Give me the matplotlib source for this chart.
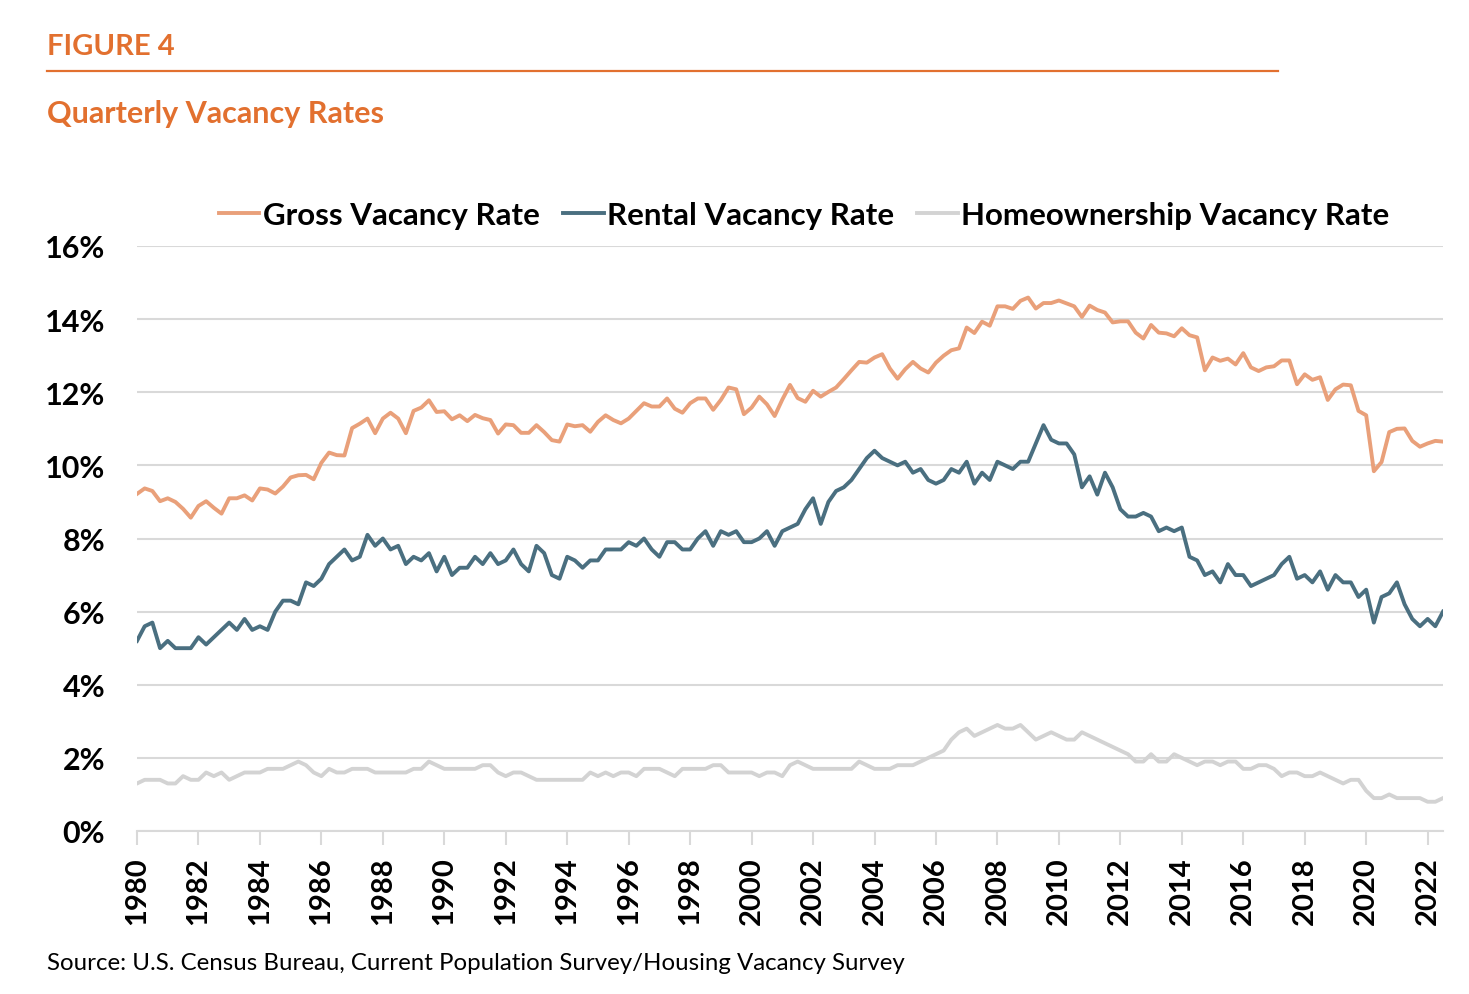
import matplotlib
matplotlib.use("Agg")
import matplotlib.pyplot as plt
from matplotlib.lines import Line2D

# quarterly series, 1980 Q1 .. 2022 Q3
years = list(range(1980, 2023))
quarters = [f"{y} Q{q}" for y in years for q in range(1, 5)][:171]

gross = [9.22, 9.37, 9.30, 9.02, 9.10, 9.00, 8.81, 8.57, 8.89, 9.02,
         8.84, 8.68, 9.10, 9.10, 9.18, 9.04, 9.37, 9.34, 9.23, 9.42,
         9.67, 9.73, 9.74, 9.62, 10.07, 10.35, 10.28, 10.27, 11.02, 11.14,
         11.28, 10.88, 11.28, 11.44, 11.28, 10.88, 11.49, 11.58, 11.78, 11.46,
         11.48, 11.26, 11.37, 11.21, 11.38, 11.29, 11.24, 10.87, 11.12, 11.10,
         10.89, 10.89, 11.10, 10.91, 10.69, 10.65, 11.12, 11.07, 11.10, 10.92,
         11.19, 11.37, 11.24, 11.15, 11.28, 11.49, 11.70, 11.61, 11.61, 11.83,
         11.55, 11.44, 11.70, 11.83, 11.83, 11.52, 11.79, 12.13, 12.08, 11.40,
         11.58, 11.88, 11.67, 11.35, 11.80, 12.20, 11.84, 11.74, 12.04, 11.88,
         12.01, 12.13, 12.36, 12.60, 12.83, 12.81, 12.95, 13.04, 12.65, 12.37,
         12.63, 12.83, 12.65, 12.54, 12.81, 13.00, 13.15, 13.20, 13.77, 13.62,
         13.93, 13.82, 14.35, 14.35, 14.28, 14.50, 14.59, 14.29, 14.44, 14.44,
         14.51, 14.43, 14.35, 14.06, 14.37, 14.25, 14.18, 13.91, 13.94, 13.94,
         13.63, 13.47, 13.84, 13.63, 13.61, 13.53, 13.75, 13.56, 13.50, 12.60,
         12.95, 12.86, 12.92, 12.76, 13.07, 12.68, 12.58, 12.68, 12.71, 12.87,
         12.87, 12.22, 12.49, 12.34, 12.41, 11.79, 12.08, 12.21, 12.19, 11.49,
         11.37, 9.84, 10.09, 10.91, 11.00, 11.01, 10.67, 10.51, 10.60, 10.67, 10.65]

rental = [5.2, 5.6, 5.7, 5.0, 5.2, 5.0, 5.0, 5.0, 5.3, 5.1,
          5.3, 5.5, 5.7, 5.5, 5.8, 5.5, 5.6, 5.5, 6.0, 6.3,
          6.3, 6.2, 6.8, 6.7, 6.9, 7.3, 7.5, 7.7, 7.4, 7.5,
          8.1, 7.8, 8.0, 7.7, 7.8, 7.3, 7.5, 7.4, 7.6, 7.1,
          7.5, 7.0, 7.2, 7.2, 7.5, 7.3, 7.6, 7.3, 7.4, 7.7,
          7.3, 7.1, 7.8, 7.6, 7.0, 6.9, 7.5, 7.4, 7.2, 7.4,
          7.4, 7.7, 7.7, 7.7, 7.9, 7.8, 8.0, 7.7, 7.5, 7.9,
          7.9, 7.7, 7.7, 8.0, 8.2, 7.8, 8.2, 8.1, 8.2, 7.9,
          7.9, 8.0, 8.2, 7.8, 8.2, 8.3, 8.4, 8.8, 9.1, 8.4,
          9.0, 9.3, 9.4, 9.6, 9.9, 10.2, 10.4, 10.2, 10.1, 10.0,
          10.1, 9.8, 9.9, 9.6, 9.5, 9.6, 9.9, 9.8, 10.1, 9.5,
          9.8, 9.6, 10.1, 10.0, 9.9, 10.1, 10.1, 10.6, 11.1, 10.7,
          10.6, 10.6, 10.3, 9.4, 9.7, 9.2, 9.8, 9.4, 8.8, 8.6,
          8.6, 8.7, 8.6, 8.2, 8.3, 8.2, 8.3, 7.5, 7.4, 7.0,
          7.1, 6.8, 7.3, 7.0, 7.0, 6.7, 6.8, 6.9, 7.0, 7.3,
          7.5, 6.9, 7.0, 6.8, 7.1, 6.6, 7.0, 6.8, 6.8, 6.4,
          6.6, 5.7, 6.4, 6.5, 6.8, 6.2, 5.8, 5.6, 5.8, 5.6, 6.0]

homeowner = [1.3, 1.4, 1.4, 1.4, 1.3, 1.3, 1.5, 1.4, 1.4, 1.6,
             1.5, 1.6, 1.4, 1.5, 1.6, 1.6, 1.6, 1.7, 1.7, 1.7,
             1.8, 1.9, 1.8, 1.6, 1.5, 1.7, 1.6, 1.6, 1.7, 1.7,
             1.7, 1.6, 1.6, 1.6, 1.6, 1.6, 1.7, 1.7, 1.9, 1.8,
             1.7, 1.7, 1.7, 1.7, 1.7, 1.8, 1.8, 1.6, 1.5, 1.6,
             1.6, 1.5, 1.4, 1.4, 1.4, 1.4, 1.4, 1.4, 1.4, 1.6,
             1.5, 1.6, 1.5, 1.6, 1.6, 1.5, 1.7, 1.7, 1.7, 1.6,
             1.5, 1.7, 1.7, 1.7, 1.7, 1.8, 1.8, 1.6, 1.6, 1.6,
             1.6, 1.5, 1.6, 1.6, 1.5, 1.8, 1.9, 1.8, 1.7, 1.7,
             1.7, 1.7, 1.7, 1.7, 1.9, 1.8, 1.7, 1.7, 1.7, 1.8,
             1.8, 1.8, 1.9, 2.0, 2.1, 2.2, 2.5, 2.7, 2.8, 2.6,
             2.7, 2.8, 2.9, 2.8, 2.8, 2.9, 2.7, 2.5, 2.6, 2.7,
             2.6, 2.5, 2.5, 2.7, 2.6, 2.5, 2.4, 2.3, 2.2, 2.1,
             1.9, 1.9, 2.1, 1.9, 1.9, 2.1, 2.0, 1.9, 1.8, 1.9,
             1.9, 1.8, 1.9, 1.9, 1.7, 1.7, 1.8, 1.8, 1.7, 1.5,
             1.6, 1.6, 1.5, 1.5, 1.6, 1.5, 1.4, 1.3, 1.4, 1.4,
             1.1, 0.9, 0.9, 1.0, 0.9, 0.9, 0.9, 0.9, 0.8, 0.8, 0.9]

yticks = [0, 2, 4, 6, 8, 10, 12, 14, 16]
tick_years = list(range(1980, 2023, 2))

ORANGE = "#E2702F"
GROSS_C = "#E9A07A"
RENTAL_C = "#4A6F80"
HOME_C = "#D3D3D3"
GRID_C = "#D9D9D9"

plt.rcParams['font.family'] = ['Lato', 'DejaVu Sans']

fig = plt.figure(figsize=(14.69, 9.95), dpi=100)
ax = fig.add_axes([137 / 1469, 1 - 832 / 995, (1443 - 137) / 1469, (832 - 247) / 995])

x = list(range(len(quarters)))
ax.plot(x, gross, color=GROSS_C, lw=2.8, solid_joinstyle='round', label="Gross Vacancy Rate", zorder=3)
ax.plot(x, rental, color=RENTAL_C, lw=2.8, solid_joinstyle='round', label="Rental Vacancy Rate", zorder=3)
ax.plot(x, homeowner, color=HOME_C, lw=2.8, solid_joinstyle='round', label="Homeownership Vacancy Rate", zorder=3)

ax.set_xlim(0, len(quarters) - 1)
ax.set_ylim(0, 16)
ax.set_yticks(yticks)
ax.set_yticklabels([f"{v}%" for v in yticks], fontsize=22, fontweight='bold')
ax.yaxis.grid(True, color=GRID_C, lw=1.5)
ax.set_axisbelow(True)
ax.tick_params(axis='y', length=0, pad=23)

tick_pos = [quarters.index(f"{y} Q1") for y in tick_years]
ax.set_xticks(tick_pos)
ax.set_xticklabels([str(y) for y in tick_years], rotation=90, fontsize=21, fontweight='bold')
ax.tick_params(axis='x', length=10, width=1.5, color=GRID_C, pad=8)

for s in ['top', 'right', 'left']:
    ax.spines[s].set_visible(False)
ax.spines['bottom'].set_color(GRID_C)
ax.spines['bottom'].set_linewidth(1.5)

handles = [Line2D([], [], color=c, lw=2.8) for c in (GROSS_C, RENTAL_C, HOME_C)]
fig.legend(handles, ["Gross Vacancy Rate", "Rental Vacancy Rate", "Homeownership Vacancy Rate"],
           loc='center', bbox_to_anchor=(804 / 1469, 1 - 216 / 995), ncol=3, frameon=False,
           handlelength=1.3, handletextpad=0.1, columnspacing=0.75,
           prop={'size': 22.5, 'weight': 'bold'})

fig.text(47 / 1469, 1 - 47 / 995, "FIGURE 4", color=ORANGE, fontsize=21, fontweight='bold', va='center')
fig.add_artist(Line2D([47 / 1469, 1278 / 1469], [1 - 72 / 995, 1 - 72 / 995], color=ORANGE, lw=1.6))
fig.text(47 / 1469, 1 - 114 / 995, "Quarterly Vacancy Rates", color=ORANGE, fontsize=22, fontweight='bold', va='center')
fig.text(47 / 1469, 1 - 964 / 995, "Source: U.S. Census Bureau, Current Population Survey/Housing Vacancy Survey",
         fontsize=17.3, va='center', color='black')

fig.savefig("out.png", dpi=100)
